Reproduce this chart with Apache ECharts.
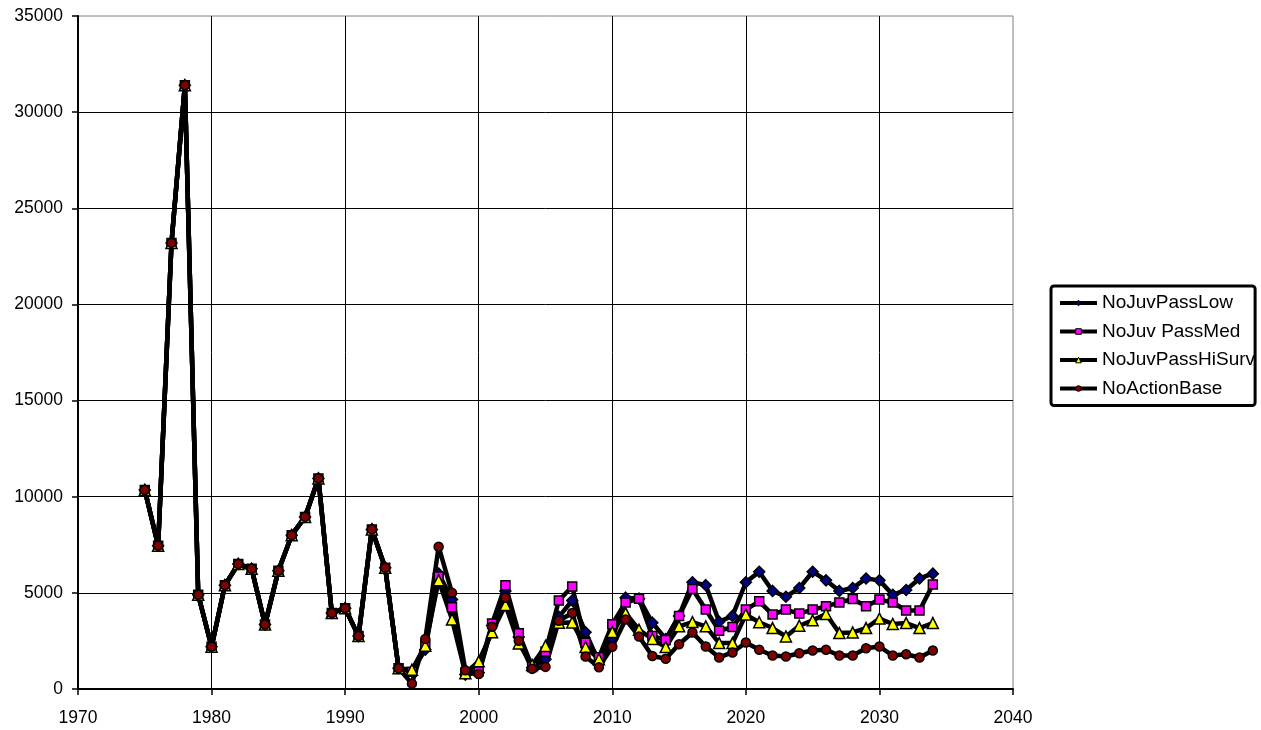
<!DOCTYPE html>
<html>
<head>
<meta charset="utf-8">
<script src="https://cdn.jsdelivr.net/npm/echarts@6/dist/echarts.min.js"></script>
<style>
html,body{margin:0;padding:0;background:#fff;}
#chart{width:1261px;height:730px;}
</style>
</head>
<body>
<div id="chart"></div>
<script>
var years = [1975,1976,1977,1978,1979,1980,1981,1982,1983,1984,1985,1986,1987,1988,1989,1990,1991,1992,1993,1994,
  1995,1996,1997,1998,1999,2000,2001,2002,2003,2004,2005,2006,2007,2008,2009,2010,2011,2012,2013,2014,
  2015,2016,2017,2018,2019,2020,2021,2022,2023,2024,2025,2026,2027,2028,2029,2030,2031,2032,2033,2034];

// 1975-1994: identical for all scenarios
var commonHistory = [10350,7450,23200,31400,4900,2200,5400,6500,6250,3350,6150,8000,8950,10950,3950,4200,2750,8300,6300,1080];

// 1995-2034 per scenario
var noJuvPassLow = [900,2050,6000,4650,750,850,3300,5100,2700,1100,1550,3750,4600,2950,1400,2600,4750,4700,3450,2600,
  3800,5550,5400,3500,3800,5550,6100,5100,4800,5250,6100,5650,5100,5250,5750,5650,4900,5150,5750,6000];
var noJuvPassMed = [900,2300,5850,4250,870,920,3400,5400,2900,1150,1950,4600,5330,2400,1650,3370,4500,4700,2750,2550,
  3800,5200,4130,3030,3220,4130,4560,3870,4130,3920,4130,4300,4500,4680,4300,4650,4500,4080,4080,5430];
var noJuvPassHiSurv = [1000,2250,5650,3620,820,1440,2950,4370,2370,1250,2240,3450,3460,2180,1550,2960,3950,3080,2600,2180,
  3260,3480,3260,2390,2390,3870,3470,3170,2730,3290,3570,3900,2910,2940,3170,3660,3380,3430,3170,3430];
var noActionBase = [280,2600,7400,5000,970,780,3240,4750,2510,1050,1150,3550,3950,1690,1130,2200,3620,2730,1720,1570,
  2330,2940,2210,1640,1900,2420,2040,1740,1690,1860,2000,2040,1740,1740,2120,2210,1740,1810,1640,2000];

var seriesNames = ['NoJuvPassLow','NoJuv PassMed','NoJuvPassHiSurv','NoActionBase'];
var xTicks = [1970,1980,1990,2000,2010,2020,2030,2040];
var yTicks = [0,5000,10000,15000,20000,25000,30000,35000];

function build(tail){
  return years.map(function(y,i){
    return [y, i < commonHistory.length ? commonHistory[i] : tail[i - commonHistory.length]];
  });
}

var FONT = '"Liberation Sans", Arial, sans-serif';
var styles = [
  {symbol:'diamond', size:11, color:'#000080'},
  {symbol:'rect', size:9, color:'#FF00FF'},
  {symbol:'triangle', size:11, color:'#FFFF00'},
  {symbol:'circle', size:9, color:'#800000'}
];
var tails = [noJuvPassLow, noJuvPassMed, noJuvPassHiSurv, noActionBase];

var series = seriesNames.map(function(n,k){
  return {
    name:n, type:'line', data:build(tails[k]),
    symbol:styles[k].symbol, symbolSize:styles[k].size, showAllSymbol:true,
    lineStyle:{color:'#000', width:4.5},
    itemStyle:{color:styles[k].color, borderColor:'#000', borderWidth:1.5},
    emphasis:{disabled:true}, animation:false
  };
});

function plain(v){ return String(v); }

var chart = echarts.init(document.getElementById('chart'), null, {renderer:'canvas'});
chart.setOption({
  animation:false,
  backgroundColor:'#fff',
  grid:{left:78, top:16, right:248, bottom:41, show:true, borderColor:'#808080', borderWidth:1, containLabel:false},
  xAxis:{
    type:'value', min:xTicks[0], max:xTicks[xTicks.length-1], interval:10,
    axisLine:{show:true, onZero:false, lineStyle:{color:'#000', width:2}},
    axisTick:{show:true, length:6, lineStyle:{color:'#000', width:1.5}},
    axisLabel:{color:'#000', fontFamily:FONT, fontSize:17.5, margin:20, formatter:plain},
    splitLine:{show:true, showMaxLine:false, lineStyle:{color:'#000', width:1}}
  },
  yAxis:{
    type:'value', min:yTicks[0], max:yTicks[yTicks.length-1], interval:5000,
    axisLine:{show:true, lineStyle:{color:'#000', width:2}},
    axisTick:{show:true, length:6, lineStyle:{color:'#000', width:1.5}},
    axisLabel:{color:'#000', fontFamily:FONT, fontSize:17.5, margin:15, formatter:plain},
    splitLine:{show:true, showMaxLine:false, lineStyle:{color:'#000', width:1}}
  },
  legend:{
    data:seriesNames, orient:'vertical', left:1051, top:286,
    itemWidth:37, itemHeight:7, itemGap:8.5,
    padding:[7,0,7,7],
    borderColor:'#000', borderWidth:3, borderRadius:3,
    lineStyle:{color:'#000', width:4},
    itemStyle:{borderColor:'#000', borderWidth:1},
    textStyle:{color:'#000', fontFamily:FONT, fontSize:19, lineHeight:20},
    selectedMode:false
  },
  series:series
});
</script>
</body>
</html>
